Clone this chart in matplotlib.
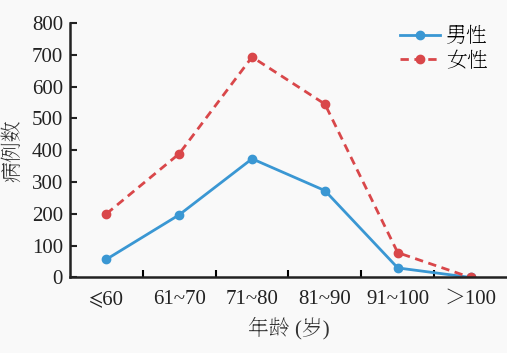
import matplotlib
matplotlib.use("Agg")
import matplotlib.pyplot as plt

categories = ["⩽60", "61~70", "71~80", "81~90", "91~100", "＞100"]
male = [57, 197, 373, 273, 30, 0]
female = [200, 389, 693, 545, 78, 0]
yticks = [0, 100, 200, 300, 400, 500, 600, 700, 800]

fam = ["Liberation Serif", "Noto Serif SC", "STIXGeneral", "DejaVu Sans"]
plt.rcParams["font.family"] = fam

fig = plt.figure(figsize=(5.07, 3.53), dpi=100, facecolor="#f9f9f9")
ax = fig.add_axes([0.138, 0.214, 0.862, 0.721])
ax.set_facecolor("#f9f9f9")

x = list(range(len(categories)))
ax.plot(x, male, color="#3a97d3", lw=2.0, marker="o", ms=6, label="男性")
ax.plot(x, female, color="#d9474a", lw=2.0, ls=(0, (3, 2)), marker="o", ms=6, label="女性")

ax.set_xlim(-0.5, 5.5)
ax.set_ylim(0, 800)
ax.set_yticks(yticks)
ax.set_yticklabels([str(v) for v in yticks], family=fam)
ax.tick_params(axis="y", direction="in", length=5, width=1.5, labelsize=15, pad=5, colors="#222222")
ax.set_xticks(x)
ax.set_xticklabels(categories, family=fam)
ax.tick_params(axis="x", which="major", length=0, labelsize=15, pad=9, colors="#222222")
ax.set_xticks([i + 0.5 for i in range(len(categories) - 1)], minor=True)
ax.tick_params(axis="x", which="minor", direction="in", length=5, width=1.5)

for s in ["top", "right"]:
    ax.spines[s].set_visible(False)
for s in ["left", "bottom"]:
    ax.spines[s].set_linewidth(1.8)
    ax.spines[s].set_color("#222222")

ax.set_xlabel("年龄 (岁)", fontsize=15, color="#333333", labelpad=6, family=fam)
ax.set_ylabel("病例数", fontsize=15, color="#333333", labelpad=6, family=fam)

ax.legend(loc="upper right", bbox_to_anchor=(0.99, 1.04), frameon=False,
          prop={"family": fam, "size": 15},
          handlelength=1.9, handletextpad=0.3, labelspacing=0.25, borderaxespad=0.3)

fig.savefig("out.png", dpi=100, facecolor=fig.get_facecolor())
